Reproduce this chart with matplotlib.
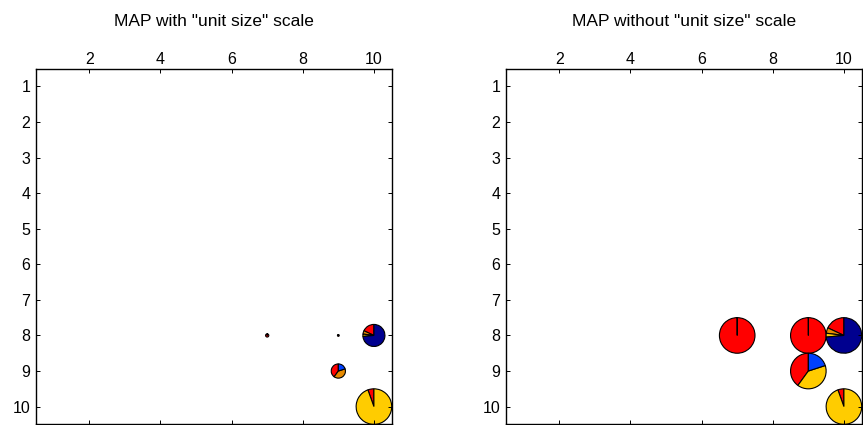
import matplotlib
matplotlib.use("Agg")
import matplotlib.pyplot as plt
from matplotlib.patches import Wedge

plt.rcParams['font.family'] = ['Liberation Sans', 'DejaVu Sans']

# pie centres (column, row) on the 10x10 map
pie_x = [7, 9, 10, 9, 10]
pie_y = [8, 8, 8, 9, 10]

# slice shares, counter-clockwise from 12 o'clock
pie_fracs = [
    [1.0],
    [1.0],
    [0.18, 0.05, 0.035, 0.735],
    [0.4, 0.4, 0.2],
]
frac_1010 = [0.055, 0.945]
pie_fracs.append(frac_1010)

red, orange, yellow, blue, navy = '#FF0000', '#E68A00', '#FFCC00', '#0040FF', '#00008F'
colors_left = [[red], [red], [red, orange, yellow, navy], [red, orange, blue], [red, yellow]]
colors_right = [[red], [red], [red, orange, yellow, navy], [red, yellow, blue], [red, yellow]]

# pie radii (map units)
radius_left = [0.045, 0.025, 0.31, 0.2, 0.5]
radius_right = [0.5, 0.5, 0.5, 0.5, 0.5]

titles = ['MAP with "unit size" scale', 'MAP without "unit size" scale']
xticks = [2, 4, 6, 8, 10]
yticks = list(range(1, 11))


def draw_pie(ax, cx, cy, r, fracs, cols):
    start = 0.0
    for f, c in zip(fracs, cols):
        a0 = 90 + 360 * start
        a1 = 90 + 360 * (start + f)
        if f >= 1:
            a1 -= 0.01  # keep the radial edge like a single-slice pie
        # y axis is reversed, so screen angle phi is data angle -phi
        ax.add_patch(Wedge((cx, cy), r, -a1, -a0, facecolor=c,
                           edgecolor='black', linewidth=0.8))
        start += f


fig = plt.figure(figsize=(8.63, 4.25), dpi=100)
lefts = [36 / 863, 506 / 863]
radii = [radius_left, radius_right]
cols_all = [colors_left, colors_right]

for k in range(2):
    ax = fig.add_axes([lefts[k], 0.6 / 425, 355.7 / 863, 355.8 / 425])
    for i in range(len(pie_x)):
        draw_pie(ax, pie_x[i], pie_y[i], radii[k][i], pie_fracs[i], cols_all[k][i])
    ax.set_xlim(0.5, 10.5)
    ax.set_ylim(10.5, 0.5)
    ax.set_xticks(xticks)
    ax.set_yticks(yticks)
    ax.xaxis.tick_top()
    ax.tick_params(direction='in', length=3, width=0.7, top=True, bottom=True,
                   left=True, right=True, labelsize=11.5)
    ax.tick_params(axis='x', pad=1.5)
    ax.tick_params(axis='y', pad=4)
    for s in ax.spines.values():
        s.set_linewidth(1.0)
    ax.set_title(titles[k], fontsize=12.5, y=1.0, pad=31)

fig.savefig('out.png', dpi=100)
